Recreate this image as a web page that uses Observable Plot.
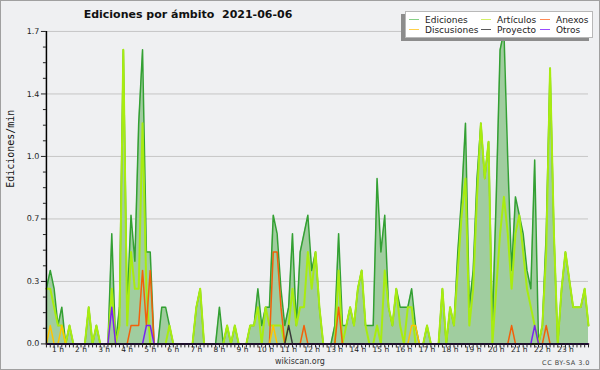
<!DOCTYPE html>
<html>
<head>
<meta charset="utf-8">
<script src="https://cdn.jsdelivr.net/npm/d3@7"></script>
<script src="https://cdn.jsdelivr.net/npm/@observablehq/plot@0.6"></script>
<style>
  body { margin: 0; background: #ffffff; }
  #wrap { position: relative; width: 600px; height: 370px; background: #eff0f2; border: 1px solid #a0a0a0; box-sizing: border-box; overflow: hidden; font-family: "DejaVu Sans", sans-serif; }
  #chart { position: absolute; left: -1px; top: -1px; }
  #title { position: absolute; left: -1px; top: 7px; width: 376px; text-align: center; font-weight: bold; font-size: 11px; color: #111; white-space: pre; }
  #legend { position: absolute; left: 404px; top: 10px; width: 188px; height: 27px; background: #fff; border: 1px solid #b8b8b8; box-sizing: border-box; box-shadow: -4px 3px 0 #8c8c8c; }
  .entry { position: absolute; font-size: 9px; color: #222; line-height: 10px; white-space: nowrap; }
  .entry i { display: inline-block; width: 10px; height: 1px; vertical-align: middle; margin-right: 6px; position: relative; top: -1px; }
  #site { position: absolute; left: 0; width: 598px; top: 356px; text-align: center; font-size: 8px; color: #333; }
  #lic { position: absolute; right: 9px; top: 358px; font-size: 6.5px; letter-spacing: 0.5px; color: #444; }
</style>
</head>
<body>
<div id="wrap">
  <div id="chart"></div>
  <div id="title"></div>
  <div id="legend"></div>
  <div id="site"></div>
  <div id="lic"></div>
</div>
<script>
// ---- data: edits per minute in 10-minute bins (first bin at 0:30) ----
const ediciones = [
  0.3,0.4,0.3,0.1,0.2,0,0.1,0,0,0,
  0,0.2,0,0.1,0,0,0,0.6,0,0.2,
  1.6,0.2,0.7,0.45,1.2,1.6,0.5,0.5,0,0,
  0.2,0.2,0.1,0,0,0,0,0,0,0.2,
  0.3,0,0,0,0,0.2,0,0.1,0,0.1,
  0,0,0,0.1,0.1,0.3,0.1,0.2,0.2,0.7,
  0.6,0.3,0.1,0.2,0.6,0.1,0.5,0.6,0.7,0.4,
  0.5,0.2,0,0,0,0.1,0.6,0.1,0.1,0.2,
  0.1,0.3,0.4,0.1,0.1,0.1,0.9,0.5,0.7,0.2,
  0.1,0.3,0.2,0.2,0.2,0.3,0.1,0,0,0.1,
  0,0,0,0.3,0,0.2,0.1,0.5,0.8,1.2,
  0.2,0.4,0.9,1.2,0.9,1.1,0.1,0.8,1.6,1.7,
  1.0,0.4,0.8,0.7,0.6,0.4,0.3,1.0,0,0.1,
  0.6,1.5,0.6,0,0.3,0.5,0.35,0.2,0.2,0.2,
  0.3,0.1
];
const articulos = [
  0.3,0.3,0.2,0.1,0.1,0,0.1,0,0,0,
  0,0.2,0,0.1,0,0,0,0.3,0,0.1,
  1.6,0.1,0.5,0.3,0.3,1.2,0.3,0,0,0,
  0,0,0.1,0,0,0,0,0,0,0.2,
  0.3,0,0,0,0,0,0,0.1,0,0.1,
  0,0,0,0.1,0.1,0.2,0,0.2,0.1,0.1,
  0.1,0.1,0,0.1,0.3,0.1,0.2,0.2,0.5,0.3,
  0.5,0.2,0,0,0,0,0.4,0,0.1,0.2,
  0.1,0.3,0.4,0.1,0,0,0.1,0,0.4,0.2,
  0.1,0.3,0.1,0,0.2,0.2,0,0,0,0.1,
  0,0,0,0.3,0,0.2,0.1,0.4,0.7,0.9,
  0.1,0.3,0.8,1.2,0.9,1.1,0,0.3,0.6,0.8,
  0.6,0.3,0.6,0.7,0.5,0.3,0.2,0.1,0,0.1,
  0.5,1.5,0.6,0,0.3,0.5,0.35,0.2,0.2,0.2,
  0.3,0.1
];
// sparse series: [bin index, value]
const anexosPts = [[22,0.1],[23,0.1],[24,0.1],[25,0.4],[26,0.1],[27,0.4],[59,0.5],[60,0.5],[61,0.2],[67,0.1],[76,0.2],[121,0.1],[130,0.1]];
const discusionesPts = [[1,0.1],[4,0.1],[59,0.1],[95,0.1],[96,0.1]];
const proyectoPts = [[63,0.1]];
const otrosPts = [[17,0.2],[26,0.1],[27,0.1],[127,0.1]];

const firstBinHour = 0.5;
const binHours = 1 / 6;
const lastHour = 24;

const seriesNames = ["Ediciones", "Artículos", "Anexos", "Discusiones", "Proyecto", "Otros"];
const seriesKeys = ["ediciones", "articulos", "anexos", "discusiones", "proyecto", "otros"];
const lineColors = ["#33a033", "#a8ec10", "#f2600a", "#ffc400", "#3a3a3a", "#7a22f0"];
const legendColors = ["#86d086", "#d2f066", "#ff8a55", "#ffd04a", "#5a5a5a", "#9a4cff"];

const yTicks = [0, 0.34, 0.68, 1.02, 1.36, 1.7];
const yTickLabels = ["0.0", "0.3", "0.7", "1.0", "1.4", "1.7"];
const hourTicks = d3.range(1, 24);

const titleText = "Ediciones por ámbito  2021-06-06";
const yLabel = "Ediciones/min";
const siteText = "wikiscan.org";
const licText = "CC BY-SA 3.0";

// ---- build table ----
const N = ediciones.length;
const expand = pts => { const a = new Array(N).fill(0); pts.forEach(([i, v]) => { a[i] = v; }); return a; };
const cols = {
  ediciones, articulos,
  anexos: expand(anexosPts),
  discusiones: expand(discusionesPts),
  proyecto: expand(proyectoPts),
  otros: expand(otrosPts)
};
const rows = ediciones.map((_, i) => {
  const r = {h: firstBinHour + i * binHours};
  seriesKeys.forEach(k => { r[k] = cols[k][i]; });
  return r;
});

const yLabelMap = new Map(yTicks.map((t, i) => [t, yTickLabels[i]]));
const yMinor = d3.range(0, 21).map(i => i * 0.085).filter(v => !yTicks.some(t => Math.abs(t - v) < 1e-6));
const xMinor = d3.range(0, Math.round((lastHour - firstBinHour) / binHours) + 1).map(i => firstBinHour + i * binHours);

const lineMarks = seriesKeys.map((k, i) => Plot.lineY(rows, {
  x: "h", y: k, stroke: lineColors[i],
  strokeWidth: i === 1 ? 2 : 1.5
}));

const chart = Plot.plot({
  width: 600,
  height: 370,
  marginLeft: 46,
  marginRight: 11,
  marginTop: 31,
  marginBottom: 26,
  style: {background: "transparent", fontFamily: "DejaVu Sans", color: "#222"},
  x: {domain: [firstBinHour, lastHour], label: null},
  y: {domain: [0, 1.7], label: null},
  marks: [
    Plot.gridY(yTicks, {stroke: "#c6c6c6", strokeOpacity: 1}),
    Plot.areaY(rows, {x: "h", y: "ediciones", fill: "#a0cd9f"}),
    ...lineMarks,
    Plot.ruleX([firstBinHour], {stroke: "#000", strokeWidth: 1.5}),
    Plot.ruleY([0], {stroke: "#000", strokeWidth: 1.5}),
    Plot.axisY(yTicks, {tickSize: 5, tickPadding: 2, fontSize: 8, tickFormat: d => yLabelMap.get(d), label: null}),
    Plot.axisY(yMinor, {tickSize: 3, tickFormat: () => "", label: null}),
    Plot.axisX(xMinor, {tickSize: 4, tickFormat: () => "", label: null}),
    Plot.axisX(hourTicks, {tickSize: 0, tickPadding: 3, fontSize: 7.5, tickFormat: d => d + " h", label: null}),
    Plot.text([yLabel], {frameAnchor: "left", rotate: -90, dx: -36, fontFamily: "DejaVu Sans Mono", fontSize: 10, fill: "#111"})
  ]
});
document.getElementById("chart").appendChild(chart);

document.getElementById("title").textContent = titleText;
document.getElementById("site").textContent = siteText;
document.getElementById("lic").textContent = licText;

// legend: 3 columns x 2 rows (Ediciones, Artículos, Anexos / Discusiones, Proyecto, Otros)
const legend = document.getElementById("legend");
const colX = [3, 75, 134];
const rowY = [3, 13];
seriesNames.forEach((name, si) => {
  const c = si % 3, r = Math.floor(si / 3);
  const e = document.createElement("div");
  e.className = "entry";
  e.style.left = colX[c] + "px";
  e.style.top = rowY[r] + "px";
  const sw = document.createElement("i");
  sw.style.background = legendColors[si];
  e.appendChild(sw);
  e.appendChild(document.createTextNode(name));
  legend.appendChild(e);
});
</script>
</body>
</html>
